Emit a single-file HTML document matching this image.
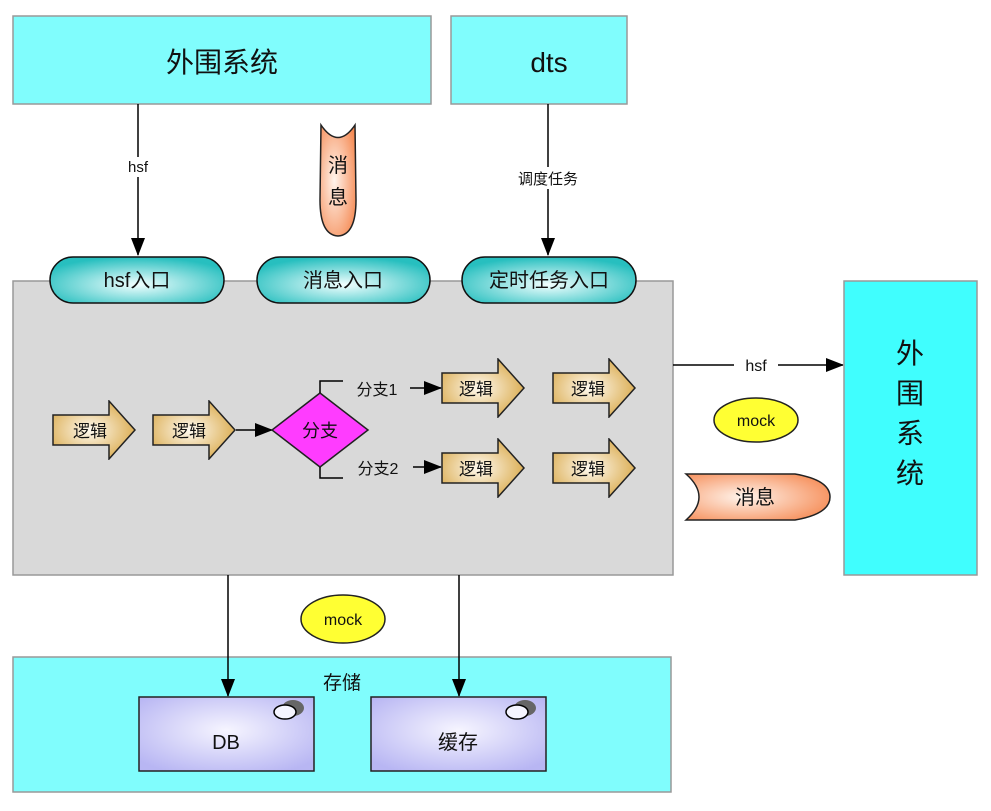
<!DOCTYPE html>
<html><head><meta charset="utf-8"><style>
body{margin:0;background:#fff}
svg text{font-family:"Liberation Sans","Noto Sans CJK SC",sans-serif;fill:#111}
</style></head><body>
<svg width="991" height="806" viewBox="0 0 991 806" xmlns="http://www.w3.org/2000/svg">
<defs>
<radialGradient id="pill" cx="50%" cy="60%" r="60%"><stop offset="0" stop-color="#f2ffff"/><stop offset="1" stop-color="#27bfbf"/></radialGradient>
<radialGradient id="gold" cx="45%" cy="50%" r="60%"><stop offset="0" stop-color="#fffaf0"/><stop offset="1" stop-color="#d9a94a"/></radialGradient>
<radialGradient id="org" cx="40%" cy="50%" r="70%"><stop offset="0" stop-color="#fff4ec"/><stop offset="1" stop-color="#f5874f"/></radialGradient>
<radialGradient id="vio" cx="50%" cy="45%" r="65%"><stop offset="0" stop-color="#f6f5ff"/><stop offset="1" stop-color="#b8b6f3"/></radialGradient>
<marker id="ah" markerWidth="18" markerHeight="14" refX="17" refY="7" orient="auto" markerUnits="userSpaceOnUse"><path d="M0,0 L18,7 L0,14 z" fill="#000"/></marker>
<symbol id="lg" viewBox="0 0 84 60"><path d="M1,15 H57 V1 L83,30 L57,59 V45 H1 Z" fill="url(#gold)" stroke="#222" stroke-width="1.5"/></symbol>
</defs>
<rect x="13" y="16" width="418" height="88" fill="#80fdfd" stroke="#999" stroke-width="1.5"/>
<text x="222" y="72" font-size="28" text-anchor="middle">外围系统</text>
<rect x="451" y="16" width="176" height="88" fill="#80fdfd" stroke="#999" stroke-width="1.5"/>
<text x="549" y="72" font-size="28" text-anchor="middle">dts</text>

<line x1="138" y1="104" x2="138" y2="255" stroke="#000" stroke-width="1.5" marker-end="url(#ah)"/>
<rect x="120" y="157" width="36" height="20" fill="#fff"/>
<text x="138" y="172" font-size="15" text-anchor="middle">hsf</text>
<line x1="548" y1="104" x2="548" y2="255" stroke="#000" stroke-width="1.5" marker-end="url(#ah)"/>
<rect x="508" y="167" width="80" height="22" fill="#fff"/>
<text x="548" y="184" font-size="15" text-anchor="middle">调度任务</text>

<path d="M321,125 Q338,150 355,125 L356,200 Q356,235 338,236 Q320,235 320,200 Z" fill="url(#org)" stroke="#222" stroke-width="1.5"/>
<text x="338" y="172" font-size="20" text-anchor="middle">消</text>
<text x="338" y="204" font-size="20" text-anchor="middle">息</text>

<rect x="13" y="281" width="660" height="294" fill="#d9d9d9" stroke="#999" stroke-width="1.5"/>
<rect x="50" y="257" width="174" height="46" rx="23" fill="url(#pill)" stroke="#111" stroke-width="1.5"/>
<text x="137" y="287" font-size="20" text-anchor="middle">hsf入口</text>
<rect x="257" y="257" width="173" height="46" rx="23" fill="url(#pill)" stroke="#111" stroke-width="1.5"/>
<text x="343" y="287" font-size="20" text-anchor="middle">消息入口</text>
<rect x="462" y="257" width="174" height="46" rx="23" fill="url(#pill)" stroke="#111" stroke-width="1.5"/>
<text x="549" y="287" font-size="20" text-anchor="middle">定时任务入口</text>

<use href="#lg" x="52" y="400" width="84" height="60"/>
<text x="90" y="437" font-size="17" text-anchor="middle">逻辑</text>
<use href="#lg" x="152" y="400" width="84" height="60"/>
<text x="189" y="437" font-size="17" text-anchor="middle">逻辑</text>
<line x1="236" y1="430" x2="272" y2="430" stroke="#000" stroke-width="1.5" marker-end="url(#ah)"/>
<path d="M320,393 L368,430 L320,467 L272,430 Z" fill="#ff3cff" stroke="#222" stroke-width="1.5"/>
<text x="320" y="437" font-size="18" text-anchor="middle">分支</text>
<path d="M320,393 V381 H343" fill="none" stroke="#000" stroke-width="1.5"/>
<path d="M320,467 V478 H343" fill="none" stroke="#000" stroke-width="1.5"/>
<text x="377" y="395" font-size="16" text-anchor="middle">分支1</text>
<text x="378" y="474" font-size="16" text-anchor="middle">分支2</text>
<line x1="410" y1="388" x2="441" y2="388" stroke="#000" stroke-width="1.5" marker-end="url(#ah)"/>
<line x1="413" y1="467" x2="441" y2="467" stroke="#000" stroke-width="1.5" marker-end="url(#ah)"/>
<use href="#lg" x="441" y="358" width="84" height="60"/>
<text x="476" y="395" font-size="17" text-anchor="middle">逻辑</text>
<use href="#lg" x="552" y="358" width="84" height="60"/>
<text x="588" y="395" font-size="17" text-anchor="middle">逻辑</text>
<use href="#lg" x="441" y="438" width="84" height="60"/>
<text x="476" y="475" font-size="17" text-anchor="middle">逻辑</text>
<use href="#lg" x="552" y="438" width="84" height="60"/>
<text x="588" y="475" font-size="17" text-anchor="middle">逻辑</text>

<line x1="673" y1="365" x2="843" y2="365" stroke="#000" stroke-width="1.5" marker-end="url(#ah)"/>
<rect x="734" y="354" width="44" height="22" fill="#fff"/>
<text x="756" y="371" font-size="16" text-anchor="middle">hsf</text>
<ellipse cx="756" cy="420" rx="42" ry="22" fill="#ffff33" stroke="#222" stroke-width="1.5"/>
<text x="756" y="426" font-size="16" text-anchor="middle">mock</text>
<path d="M686,474 H795 Q830,480 830,497 Q830,514 795,520 H686 Q712,497 686,474 Z" fill="url(#org)" stroke="#222" stroke-width="1.5"/>
<text x="755" y="504" font-size="20" text-anchor="middle">消息</text>

<rect x="844" y="281" width="133" height="294" fill="#40fefe" stroke="#999" stroke-width="1.5"/>
<text x="910" y="363" font-size="28" text-anchor="middle">外</text>
<text x="910" y="403" font-size="28" text-anchor="middle">围</text>
<text x="910" y="443" font-size="28" text-anchor="middle">系</text>
<text x="910" y="483" font-size="28" text-anchor="middle">统</text>

<ellipse cx="343" cy="619" rx="42" ry="24" fill="#ffff33" stroke="#222" stroke-width="1.5"/>
<text x="343" y="625" font-size="16" text-anchor="middle">mock</text>

<rect x="13" y="657" width="658" height="135" fill="#80fdfd" stroke="#999" stroke-width="1.5"/>
<text x="342" y="689" font-size="19" text-anchor="middle">存储</text>
<line x1="228" y1="575" x2="228" y2="696" stroke="#000" stroke-width="1.5" marker-end="url(#ah)"/>
<line x1="459" y1="575" x2="459" y2="696" stroke="#000" stroke-width="1.5" marker-end="url(#ah)"/>
<rect x="139" y="697" width="175" height="74" fill="url(#vio)" stroke="#222" stroke-width="1.5"/>
<ellipse cx="293" cy="708" rx="11" ry="8" fill="#666"/>
<ellipse cx="285" cy="712" rx="11" ry="7" fill="#f5f5ff" stroke="#000" stroke-width="1.5"/>
<text x="226" y="749" font-size="20" text-anchor="middle">DB</text>
<rect x="371" y="697" width="175" height="74" fill="url(#vio)" stroke="#222" stroke-width="1.5"/>
<ellipse cx="525" cy="708" rx="11" ry="8" fill="#666"/>
<ellipse cx="517" cy="712" rx="11" ry="7" fill="#f5f5ff" stroke="#000" stroke-width="1.5"/>
<text x="458" y="749" font-size="20" text-anchor="middle">缓存</text>
</svg>
</body></html>
